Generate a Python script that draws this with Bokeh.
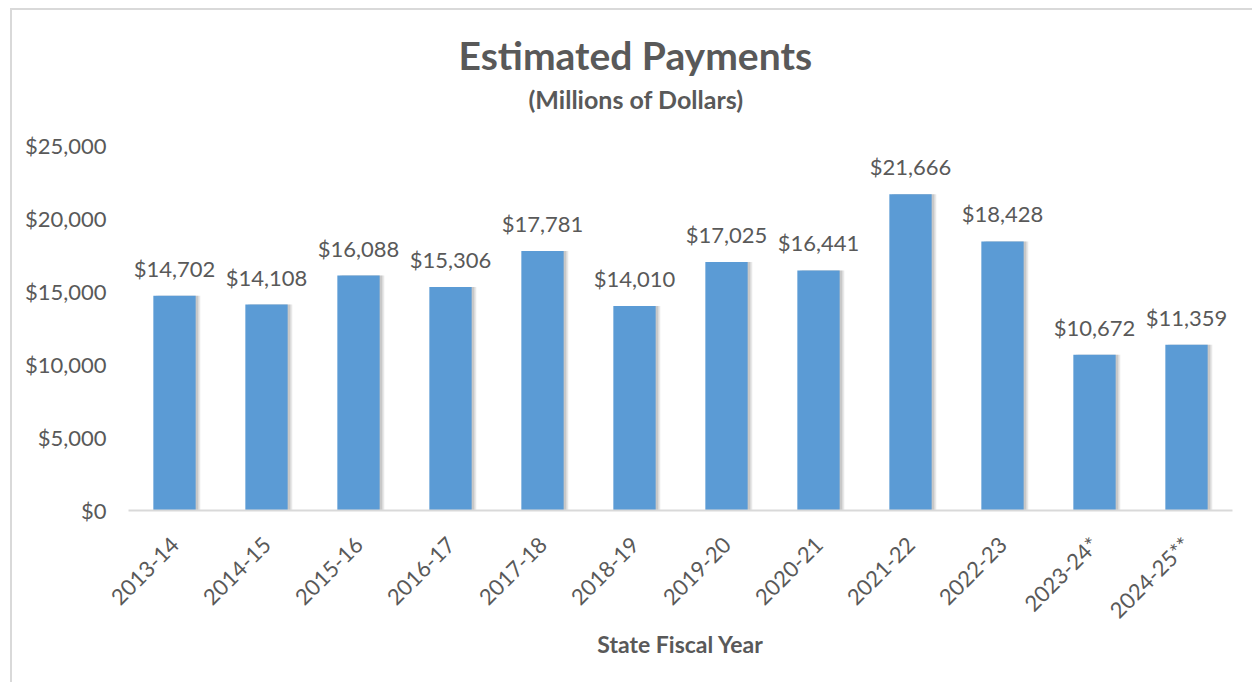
import math
from bokeh.plotting import figure
from bokeh.models import ColumnDataSource, Title, NumeralTickFormatter
from bokeh.transform import dodge
from bokeh.core.properties import value
from bokeh.embed import file_html
from bokeh.resources import INLINE

years = ["2013-14", "2014-15", "2015-16", "2016-17", "2017-18", "2018-19",
         "2019-20", "2020-21", "2021-22", "2022-23", "2023-24*", "2024-25**"]
payments = [14702, 14108, 16088, 15306, 17781, 14010,
            17025, 16441, 21666, 18428, 10672, 11359]
labels = [f"${v:,}" for v in payments]

FONT = "Lato"
GRAY = "#595959"
BAR = "#5B9BD5"

src = ColumnDataSource(dict(year=years, pay=payments, lab=labels))

p = figure(x_range=years, y_range=(0, 25000), width=1242, height=674,
           output_backend="svg", toolbar_location=None,
           min_border_left=116, min_border_right=22,
           min_border_top=135, min_border_bottom=174)
p.styles = {"border-left": "2px solid #D9D9D9", "border-top": "2px solid #D9D9D9",
            "border-right": "none", "border-bottom": "none",
            "margin-left": "10px", "margin-top": "8px"}
p.border_fill_color = "white"

# shadows
p.vbar(x=dodge("year", 0.05, range=p.x_range), top="pay", width=0.46, source=src,
       fill_color="#7f7f7f", fill_alpha=0.18, line_color=None)
p.vbar(x=dodge("year", 0.03, range=p.x_range), top="pay", width=0.46, source=src,
       fill_color="#7f7f7f", fill_alpha=0.3, line_color=None)
p.vbar(x="year", top="pay", width=0.46, source=src, fill_color=BAR, line_color=None)

p.text(x="year", y="pay", text="lab", source=src, text_align="center",
       text_baseline="bottom", y_offset=-14, text_font=value(FONT),
       text_font_size="22px", text_color=GRAY)

p.xgrid.grid_line_color = None
p.ygrid.grid_line_color = None
p.outline_line_color = None

p.yaxis.formatter = NumeralTickFormatter(format="$0,0")
p.yaxis.axis_line_color = None
p.yaxis.major_tick_line_color = None
p.yaxis.minor_tick_line_color = None
p.yaxis.major_label_text_font = FONT
p.yaxis.major_label_text_font_size = "22px"
p.yaxis.major_label_text_color = GRAY
p.yaxis.major_label_standoff = 16
p.yaxis.ticker.desired_num_ticks = 6

p.xaxis.axis_line_color = "#D9D9D9"
p.xaxis.axis_line_width = 2
p.xaxis.major_tick_line_color = None
p.xaxis.minor_tick_line_color = None
p.xaxis.major_label_orientation = math.pi / 4
p.xaxis.major_label_text_font = FONT
p.xaxis.major_label_text_font_size = "22px"
p.xaxis.major_label_text_color = GRAY
p.xaxis.major_label_standoff = 24
p.xaxis.axis_label = "State Fiscal Year"
p.xaxis.axis_label_text_font = FONT
p.xaxis.axis_label_text_font_style = "bold"
p.xaxis.axis_label_text_font_size = "23px"
p.xaxis.axis_label_text_color = GRAY
p.xaxis.axis_label_standoff = -6

# spacer, subtitle, title (first added sits closest to the frame)
p.add_layout(Title(text=" ", text_font_size="1px", standoff=27), "above")
p.add_layout(Title(text="(Millions of Dollars)", align="left", offset=400,
                   text_font=FONT, text_font_style="bold", text_font_size="25px",
                   text_color=GRAY, standoff=4), "above")
p.add_layout(Title(text="Estimated Payments", align="left", offset=330,
                   text_font=FONT, text_font_style="bold", text_font_size="39px",
                   text_color=GRAY, standoff=4), "above")

open("out.html", "w").write(file_html(p, INLINE))
